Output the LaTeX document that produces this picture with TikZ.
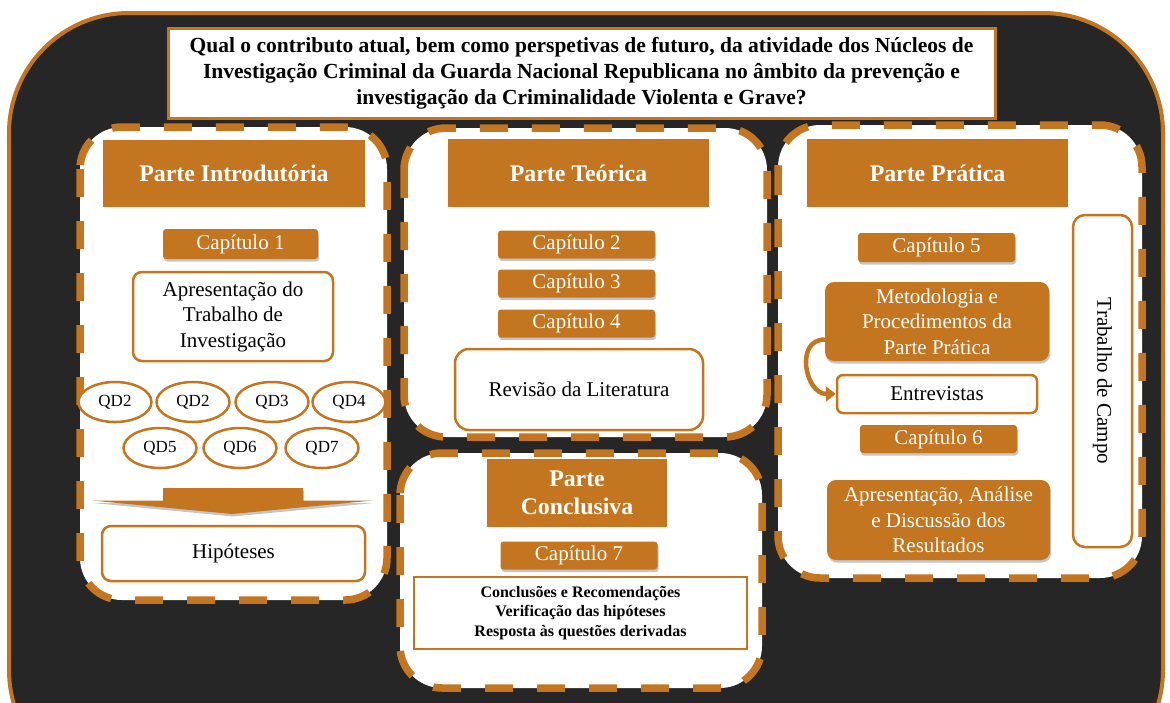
\documentclass[tikz,border=0pt]{standalone}
\usepackage{fontspec}
\setmainfont{Liberation Serif}
\usetikzlibrary{shapes.geometric,shadows,arrows.meta}
\definecolor{ocre}{RGB}{196,117,32}
\definecolor{fundo}{RGB}{38,38,38}

\begin{document}
\begin{tikzpicture}[x=1pt,y=-1pt,
  parte/.style={draw=ocre,line width=7.5pt,dash pattern=on 28pt off 24pt,fill=white,rounded corners=42pt},
  cabecalho/.style={fill=ocre,text=white,inner sep=0pt,align=center,font=\fontsize{23.8}{28}\selectfont\bfseries},
  sombra/.style={drop shadow={opacity=0.45,shadow xshift=1pt,shadow yshift=-2.5pt}},
  capitulo/.style={fill=ocre,text=white,rounded corners=3pt,sombra,inner sep=0pt,minimum width=157pt,minimum height=28pt,font=\fontsize{21}{25}\selectfont},
  bloco/.style={fill=ocre,text=white,rounded corners=9pt,sombra,inner sep=0pt,align=center,font=\fontsize{21}{25.5}\selectfont},
  caixa/.style={draw=ocre,line width=2.5pt,fill=white,rounded corners=9pt,inner sep=0pt,align=center,font=\fontsize{21}{25.5}\selectfont},
  qd/.style={ellipse,draw=ocre,line width=2.5pt,fill=white,inner sep=0pt,minimum width=73pt,minimum height=40pt,font=\fontsize{17}{20}\selectfont}]

\useasboundingbox (0,0) rectangle (1170,702);
\clip (0,0) rectangle (1170,702);

\draw[fill=fundo,draw=ocre,line width=4pt,rounded corners=120pt] (9,13) rectangle (1163,790);

\node[draw=ocre,line width=3pt,fill=white,minimum width=827pt,minimum height=90pt,inner sep=0pt,align=center,
  font=\fontsize{21.5}{25.8}\selectfont\bfseries] (pergunta) at (581.5,73)
  {Qual o contributo atual, bem como perspetivas de futuro, da atividade dos Núcleos de\\
   Investigação Criminal da Guarda Nacional Republicana no âmbito da prevenção e\\
   investigação da Criminalidade Violenta e Grave?};

\draw[parte] (80,127) rectangle (387,600);
\draw[parte] (404,128) rectangle (767,437);
\draw[parte] (400,453) rectangle (762,688);
\draw[parte] (778,125) rectangle (1142,578);

\node[cabecalho,minimum width=262pt,minimum height=67pt] (introdutoria) at (234,173.5) {Parte Introdutória};
\node[cabecalho,minimum width=261pt,minimum height=68pt] (teorica) at (578.5,173) {Parte Teórica};
\node[cabecalho,minimum width=261pt,minimum height=68pt] (pratica) at (937.5,173) {Parte Prática};
\node[cabecalho,minimum width=180pt,minimum height=68pt] (conclusiva) at (577,493) {Parte\\Conclusiva};

\node[capitulo,minimum width=155pt,minimum height=30pt] (cap1) at (240.5,244) {Capítulo 1};
\node[capitulo] (cap2) at (576.5,244.5) {Capítulo 2};
\node[capitulo] (cap3) at (576.5,283.5) {Capítulo 3};
\node[capitulo] (cap4) at (576.5,323.5) {Capítulo 4};
\node[capitulo,minimum height=29pt] (cap5) at (936.5,247.5) {Capítulo 5};
\node[capitulo] (cap6) at (938.5,439) {Capítulo 6};
\node[capitulo] (cap7) at (579,555.5) {Capítulo 7};

\node[caixa,minimum width=200pt,minimum height=89pt] (apresentacao) at (233,316.5) {Apresentação do\\Trabalho de\\Investigação};

\node[qd] (qd1) at (115,402) {QD2};
\node[qd] (qd2) at (193,402) {QD2};
\node[qd] (qd3) at (272,402) {QD3};
\node[qd] (qd4) at (349,402) {QD4};
\node[qd] (qd5) at (160,448) {QD5};
\node[qd] (qd6) at (240,448) {QD6};
\node[qd] (qd7) at (322,448) {QD7};

\fill[ocre,sombra] (163,488) -- (303,488) -- (303,500.5) -- (373,500.5) -- (232,514) -- (92,500.5) -- (163,500.5) -- cycle;

\node[caixa,minimum width=263pt,minimum height=55pt] (hipoteses) at (233.5,553.5) {Hipóteses};

\node[caixa,minimum width=248pt,minimum height=81pt,rounded corners=14pt] (revisao) at (579,389.5) {Revisão da Literatura};

\node[draw=ocre,line width=2.5pt,fill=white,minimum width=333pt,minimum height=72pt,inner sep=0pt,align=center,
  font=\fontsize{16}{19.5}\selectfont\bfseries] (conclusoes) at (580.5,613)
  {Conclusões e Recomendações\\Verificação das hipóteses\\Resposta às questões derivadas};

\node[bloco,minimum width=224pt,minimum height=79pt] (metodologia) at (937,321.5) {Metodologia e\\Procedimentos da\\Parte Prática};
\node[caixa,minimum width=200pt,minimum height=38pt,rounded corners=6pt] (entrevistas) at (937,394) {Entrevistas};
\node[bloco,minimum width=223pt,minimum height=80pt] (resultados) at (938.5,520) {Apresentação, Análise\\e Discussão dos\\Resultados};

\node[caixa,rotate=-90,minimum width=332pt,minimum height=59pt,rounded corners=12pt] (campo) at (1102.5,381) {Trabalho de Campo};

\draw[ocre,line width=4.5pt,-{Triangle[length=10pt,width=15pt]}] ([yshift=-18pt]metodologia.west)
  to[out=180,in=180,looseness=1.4] (entrevistas.west);

\end{tikzpicture}
\end{document}
